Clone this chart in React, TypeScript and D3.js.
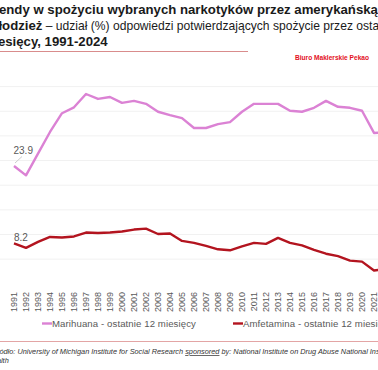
import React from "react";
import * as d3 from "d3";

const years: number[] = d3.range(1991, 2025);
const marihuana: number[] = [
  23.9, 22.0, 26.4, 30.8, 34.6, 35.8, 38.5, 37.5, 37.9, 36.7, 37.1, 36.5,
  34.9, 34.2, 33.6, 31.6, 31.6, 32.4, 32.8, 34.9, 36.5, 36.5, 36.5, 35.1,
  34.9, 35.7, 37.1, 35.9, 35.7, 35.1, 30.6, 30.7, 29.0, 25.8,
];
const amfetamina: number[] = [
  8.2, 7.3, 8.5, 9.5, 9.4, 9.6, 10.4, 10.3, 10.4, 10.6, 11.0, 11.2, 10.1,
  10.2, 8.7, 8.3, 7.7, 7.0, 6.8, 7.6, 8.3, 8.1, 9.3, 8.3, 7.8, 6.9, 6.1, 5.6,
  4.7, 4.5, 2.7, 3.0, 2.6, 2.2,
];
const gridTicks: number[] = [5, 10, 15, 20, 25, 30, 35, 40];
const seriesNames: string[] = [
  "Marihuana - ostatnie 12 miesięcy",
  "Amfetamina - ostatnie 12 miesięcy",
];

const PINK = "#db82d4";
const RED = "#b3141f";
const FONT = "'Liberation Sans', Arial, sans-serif";

export default function App() {
  const W = 378;
  const H = 370;
  const x = d3.scaleLinear().domain([1991, 2024]).range([14, 14 + 33 * 12]);
  const y = d3.scaleLinear().domain([0, 40]).range([283.8, 86.6]);
  const line = d3
    .line<number>()
    .x((_, i) => x(years[i]))
    .y((d) => y(d));

  return (
    <svg
      width={W}
      height={H}
      style={{ position: "absolute", left: 0, top: 0, background: "#fff" }}
      fontFamily={FONT}
    >
      <rect width={W} height={H} fill="#fff" />
      {/* title */}
      <text x={-13.5} y={14} fontSize={13.2} fontWeight="bold" fill="#1a1a1a">
        Trendy w spożyciu wybranych narkotyków przez amerykańską
      </text>
      <text x={-13.3} y={30} fontSize={13.2} fill="#1a1a1a">
        <tspan fontWeight="bold">młodzież</tspan>
        <tspan fontSize={12.1}> – udział (%) odpowiedzi potwierdzających spożycie przez ostatnie 12</tspan>
      </text>
      <text x={-17.5} y={46} fontSize={13.2} fontWeight="bold" fill="#1a1a1a">
        miesięcy, 1991-2024
      </text>
      <line x1={0} x2={248} y1={51.5} y2={51.5} stroke="#d98c8c" strokeWidth={1} />
      <text
        x={295}
        y={60}
        fontSize={6.6}
        fontWeight="bold"
        fill="#e3101e"
      >
        Biuro Maklerskie Pekao
      </text>

      {/* gridlines */}
      {gridTicks.map((t) => (
        <line
          key={t}
          x1={0}
          x2={W}
          y1={y(t)}
          y2={y(t)}
          stroke="#f1f1f1"
          strokeWidth={1}
        />
      ))}

      {/* lines */}
      <path d={line(marihuana) || ""} fill="none" stroke={PINK} strokeWidth={2.4} strokeLinejoin="round" />
      <path d={line(amfetamina) || ""} fill="none" stroke={RED} strokeWidth={2.4} strokeLinejoin="round" />

      {/* data labels */}
      <line x1={15} y1={163} x2={22} y2={156.5} stroke="#bfbfbf" strokeWidth={0.8} />
      <text x={13.5} y={154} fontSize={10} fill="#595959">
        {marihuana[0].toFixed(1)}
      </text>
      <text x={14} y={241} fontSize={10} fill="#595959">
        {amfetamina[0].toFixed(1)}
      </text>

      {/* x axis labels */}
      {years.map((yr) => (
        <text
          key={yr}
          transform={`translate(${x(yr) + 3.2},292) rotate(-90)`}
          textAnchor="end"
          fontSize={9}
          fill="#595959"
        >
          {yr}
        </text>
      ))}

      {/* legend */}
      <line x1={42} x2={52} y1={323.5} y2={323.5} stroke={PINK} strokeWidth={2.4} />
      <text x={52} y={327} fontSize={9.6} fill="#595959" letterSpacing={0.1}>
        {seriesNames[0]}
      </text>
      <line x1={233} x2={243} y1={323.5} y2={323.5} stroke={RED} strokeWidth={2.4} />
      <text x={243} y={327} fontSize={9.6} fill="#595959" letterSpacing={0.1}>
        {seriesNames[1]}
      </text>

      {/* separator and source */}
      <line x1={0} x2={W} y1={341.5} y2={341.5} stroke="#e3a5a5" strokeWidth={1} />
      <text x={-7.5} y={354} fontSize={7.35} fontStyle="italic" fill="#333">
        Źródło: University of Michigan Institute for Social Research{" "}
        <tspan textDecoration="underline">sponsored</tspan> by: National Institute on Drug Abuse National Institutes of
      </text>
      <text x={-12.5} y={363} fontSize={7.35} fontStyle="italic" fill="#333">
        Health
      </text>
    </svg>
  );
}
